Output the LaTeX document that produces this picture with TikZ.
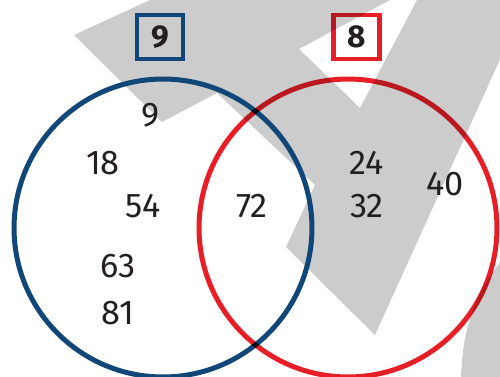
\documentclass[tikz,border=0pt]{standalone}
\usepackage{fontspec}
\setmainfont{Fira Sans}
\usetikzlibrary{positioning}
\definecolor{setblue}{RGB}{16,70,120}
\definecolor{setred}{RGB}{232,30,38}
\definecolor{checkgrey}{RGB}{204,204,204}
\definecolor{numink}{RGB}{35,31,32}

\begin{document}
\begin{tikzpicture}[x=0.02cm,y=-0.02cm,
    vcircle/.style={circle,line width=0.1cm,minimum size=5.96cm,inner sep=0pt},
    vlabel/.style={draw,line width=0.09cm,minimum width=0.92cm,minimum height=0.88cm,
        inner sep=0pt,font=\fontsize{18}{21}\selectfont\bfseries,text=numink},
    vnum/.style={font=\fontsize{19.5}{23}\selectfont,text=numink,inner sep=0pt}
]
\useasboundingbox (0,0) rectangle (500,376);
\clip (0,0) rectangle (500,376);
% grey tick behind the sets
\fill[checkgrey] (74,35) -- (162,122) -- (217,93) -- (315,185) -- (286,247)
    -- (375,335) -- (527,0) -- (417,0) -- (360,108) -- (299,49) -- (390,0)
    -- (150,0) -- cycle;
\fill[checkgrey] (461,380) .. controls (462,320) and (480,285) .. (510,250)
    -- (510,380) -- cycle;
% the two sets
\node[vcircle,draw=setblue] (nineset) at (163,228) {};
\node[vlabel,draw=setblue] (ninelabel) at (160,37) {9};
\begin{scope}[blend mode=multiply]
\node[vcircle,draw=setred] (eightset) at (348,228) {};
\node[vlabel,draw=setred] (eightlabel) at (356.5,37) {8};
\end{scope}
% members
\node[vnum] (n9) at (150,115) {9};
\node[vnum] (n18) at (103,163) {18};
\node[vnum] (n54) at (143,206) {54};
\node[vnum] (n63) at (118,266) {63};
\node[vnum] (n81) at (118,313) {81};
\node[vnum] (n72) at (252,206) {72};
\node[vnum] (n24) at (367,163) {24};
\node[vnum] (n32) at (367,206) {32};
\node[vnum] (n40) at (445,184) {40};
\end{tikzpicture}
\end{document}
